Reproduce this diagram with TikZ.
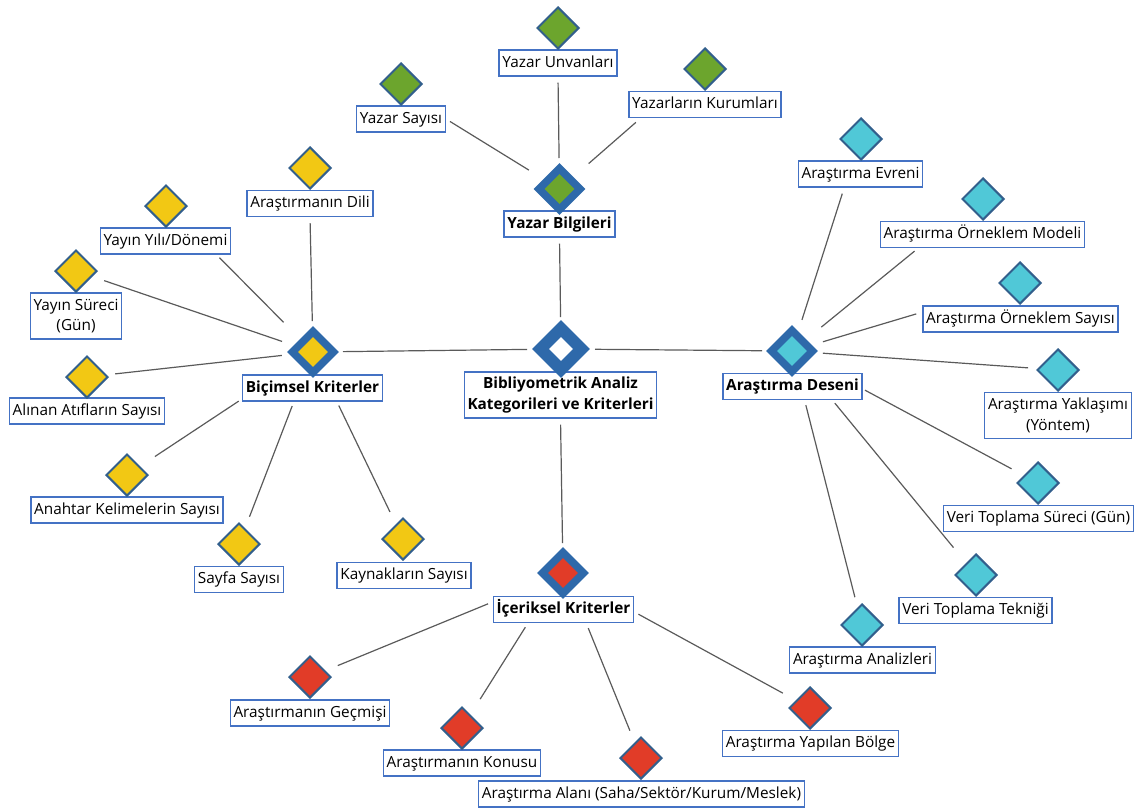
\documentclass[tikz,border=0pt]{standalone}
\usepackage{fontspec}
\setmainfont{Open Sans}
\usetikzlibrary{shapes.geometric}
\definecolor{cgreen}{RGB}{108,165,45}
\definecolor{cyellow}{RGB}{242,200,20}
\definecolor{ccyan}{RGB}{80,200,215}
\definecolor{cred}{RGB}{225,60,40}
\definecolor{hubblue}{RGB}{46,105,170}
\definecolor{leafborder}{RGB}{50,95,140}
\definecolor{boxblue}{RGB}{68,114,196}
\definecolor{linegray}{RGB}{90,90,90}
\begin{document}
\begin{tikzpicture}[x=0.75pt,y=-0.75pt,
 leaf/.style={diamond, draw=leafborder, line width=1.5pt, minimum width=31.5pt, minimum height=31.5pt, inner sep=0pt, fill=#1},
 hubo/.style={diamond, fill=hubblue, minimum width=39pt, minimum height=39pt, inner sep=0pt},
 hubi/.style={diamond, fill=#1, minimum width=22.5pt, minimum height=22.5pt, inner sep=0pt},
 lbl/.style={draw=boxblue, line width=1pt, fill=white, inner xsep=2.5pt, inner ysep=1pt, font=\fontsize{11.5}{15.5}\selectfont},
 one/.style={lbl, text height=8.6pt, text depth=2.6pt, minimum height=19.5pt},
 two/.style={lbl, align=center, minimum height=34.5pt},
 hubl/.style={one, font=\fontsize{11.5}{15.5}\selectfont\bfseries},
 link/.style={draw=linegray, line width=0.9pt}]
\useasboundingbox (0,0) rectangle (1136,810);

% ---------- boxes ----------
\node[one] (yub) at (558,63) {Yazar Unvanları};
\node[one] (ysb) at (401,119) {Yazar Sayısı};
\node[one] (ykb) at (705,104.5) {Yazarların Kurumları};
\node[hubl] (yzb) at (559.5,224) {Yazar Bilgileri};

\node[one] (bdb) at (310,203.5) {Araştırmanın Dili};
\node[one] (byb) at (165.5,241) {Yayın Yılı/Dönemi};
\node[two] (bsb) at (76,316) {Yayın Süreci\\(Gün)};
\node[one] (bab) at (87,411) {Alınan Atıfların Sayısı};
\node[one] (bkb) at (127,510) {Anahtar Kelimelerin Sayısı};
\node[one] (bfb) at (239,579.5) {Sayfa Sayısı};
\node[one] (bnb) at (404,575.5) {Kaynakların Sayısı};
\node[hubl] (bcb) at (312.5,388) {Biçimsel Kriterler};

\node[one] (aeb) at (860.5,174) {Araştırma Evreni};
\node[one] (amb) at (982.5,234.5) {Araştırma Örneklem Modeli};
\node[one] (asb) at (1020.5,319) {Araştırma Örneklem Sayısı};
\node[two] (ayb) at (1058,415.5) {Araştırma Yaklaşımı\\(Yöntem)};
\node[one] (avb) at (1038.5,518.5) {Veri Toplama Süreci (Gün)};
\node[one] (atb) at (975.5,610.5) {Veri Toplama Tekniği};
\node[one] (anb) at (862.5,660) {Araştırma Analizleri};
\node[hubl] (adb) at (792.5,386.5) {Araştırma Deseni};

\node[one] (igb) at (310,713) {Araştırmanın Geçmişi};
\node[one] (ikb) at (462,763) {Araştırmanın Konusu};
\node[one] (iab) at (641.5,794) {Araştırma Alanı (Saha/Sektör/Kurum/Meslek)};
\node[one] (ibb) at (810.5,743.5) {Araştırma Yapılan Bölge};
\node[hubl] (icb) at (563.5,609.5) {İçeriksel Kriterler};

\node[two, font=\fontsize{11.5}{15.5}\selectfont\bfseries] (cb) at (560.5,395) {Bibliyometrik Analiz\\Kategorileri ve Kriterleri};

% ---------- diamonds ----------
\node[leaf=cgreen] (yud) at (558,28) {};
\node[leaf=cgreen] (ysd) at (401,84) {};
\node[leaf=cgreen] (ykd) at (705,69) {};
\node[hubo] (yzd) at (559.5,189) {};
\node[hubi=cgreen] at (yzd) {};

\node[leaf=cyellow] (bdd) at (310,168) {};
\node[leaf=cyellow] (byd) at (166,206) {};
\node[leaf=cyellow] (bsd) at (76,271) {};
\node[leaf=cyellow] (bad) at (87,377) {};
\node[leaf=cyellow] (bkd) at (127,475) {};
\node[leaf=cyellow] (bfd) at (239,544) {};
\node[leaf=cyellow] (bnd) at (403,539) {};
\node[hubo] (bcd) at (313,352) {};
\node[hubi=cyellow] at (bcd) {};

\node[leaf=ccyan] (aed) at (861,139) {};
\node[leaf=ccyan] (amd) at (983,199) {};
\node[leaf=ccyan] (asd) at (1020,283) {};
\node[leaf=ccyan] (ayd) at (1058,370) {};
\node[leaf=ccyan] (avd) at (1038,483) {};
\node[leaf=ccyan] (atd) at (976,575) {};
\node[leaf=ccyan] (anz) at (862,625) {};
\node[hubo] (add) at (792,351) {};
\node[hubi=ccyan] at (add) {};

\node[leaf=cred] (igd) at (310,677) {};
\node[leaf=cred] (ikd) at (462,728) {};
\node[leaf=cred] (iad) at (641,758) {};
\node[leaf=cred] (ibd) at (810,708) {};
\node[hubo] (icd) at (563,573) {};
\node[hubi=cred] at (icd) {};

\node[hubo, minimum width=43.5pt, minimum height=43.5pt] (cd) at (561,349) {};
\node[diamond, fill=white, minimum width=18pt, minimum height=18pt, inner sep=0pt] at (cd) {};

% ---------- connectors ----------
\draw[link, shorten <=3.5pt, shorten >=27pt] (ysb.east) -- (yzd.center);
\draw[link, shorten <=4.5pt, shorten >=23.25pt] (yub.south) -- (yzd.center);
\draw[link, shorten <=4.8pt, shorten >=29pt] (ykb.192) -- (yzd.center);
\draw[link, shorten <=4.5pt, shorten >=24pt] (yzb.south) -- (cd.center);

\draw[link, shorten <=4.5pt, shorten >=23.25pt] (bdb.south) -- (bcd.center);
\draw[link, shorten <=3.2pt, shorten >=31.3pt] (byb.345) -- (bcd.center);
\draw[link, shorten <=22.3pt, shorten >=24.5pt] (bsd.center) -- (bcd.center);
\draw[link, shorten <=21.2pt, shorten >=23.5pt] (bad.center) -- (bcd.center);
\draw[link, shorten <=25.1pt, shorten >=66.8pt] (bkd.center) -- (bcd.center);
\draw[link, shorten <=21.9pt, shorten >=43.4pt] (bfd.center) -- (bcd.center);
\draw[link, shorten <=22.5pt, shorten >=44.6pt] (bnd.center) -- (bcd.center);
\draw[link, shorten <=22.5pt, shorten >=25.5pt] (bcd.center) -- (cd.center);

\draw[link, shorten <=25.5pt, shorten >=22.5pt] (cd.center) -- (add.center);
\draw[link, shorten <=4.5pt, shorten >=22.5pt] (cb.south) -- (icd.center);

\draw[link, shorten <=4.7pt, shorten >=24.5pt] (aeb.220) -- (add.center);
\draw[link, shorten <=3.5pt, shorten >=28.4pt] (amb.192) -- (add.center);
\draw[link, shorten <=4.7pt, shorten >=24.2pt] (asb.176) -- (add.center);
\draw[link, shorten <=23.25pt, shorten >=22.5pt] (add.center) -- (ayd.center);
\draw[link, shorten <=62.1pt, shorten >=22.5pt] (add.center) -- (avd.center);
\draw[link, shorten <=50.6pt, shorten >=26.6pt] (add.center) -- (atd.center);
\draw[link, shorten <=41.9pt, shorten >=21.5pt] (add.center) -- (anz.center);

\draw[link, shorten <=22.5pt, shorten >=60.75pt] (igd.center) -- (icd.center);
\draw[link, shorten <=25.6pt, shorten >=3.6pt] (ikd.center) -- (icb.201);
\draw[link, shorten <=22.1pt, shorten >=4pt] (iad.center) -- (icb.329);
\draw[link, shorten <=23.2pt, shorten >=3.5pt] (ibd.center) -- (icb.358);
\end{tikzpicture}
\end{document}
